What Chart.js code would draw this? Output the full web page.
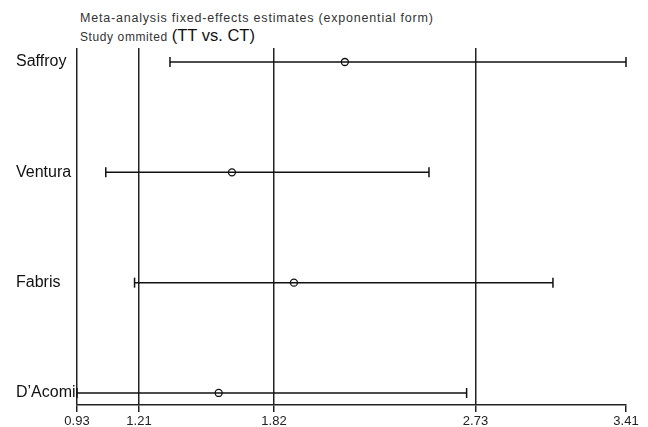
<!DOCTYPE html>
<html>
<head>
<meta charset="utf-8">
<script src="https://cdn.jsdelivr.net/npm/chart.js@4.4.0/dist/chart.umd.min.js"></script>
<style>
  body { margin: 0; background: #fff; }
  #wrap { position: relative; width: 648px; height: 427px; font-family: Arial, "Liberation Sans", sans-serif; }
  #t1 { position: absolute; left: 80px; top: 11px; font-size: 12.5px; line-height: 14px; letter-spacing: 0.8px; color: #333; white-space: nowrap; }
  #t2 { position: absolute; left: 80px; top: 26px; font-size: 12px; line-height: 18px; letter-spacing: 0.6px; color: #333; white-space: nowrap; }
  #t2 span { font-size: 16.5px; letter-spacing: 0; color: #111; }
  canvas { position: absolute; left: 0; top: 0; }
</style>
</head>
<body>
<div id="wrap">
  <div id="t1">Meta-analysis fixed-effects estimates (exponential form)</div>
  <div id="t2">Study ommited <span>(TT vs. CT)</span></div>
  <canvas id="chartSensibilite" width="648" height="427"></canvas>
</div>
<script>
// etudes omises, une par ligne
const etudes = ["Saffroy", "Ventura", "Fabris", "D\u2019Acomi"]
const estimations = [2.14, 1.63, 1.91, 1.57]
const bornesInf = [1.35, 1.06, 1.19, 0.93]
const bornesSup = [3.41, 2.52, 3.08, 2.69]
const graduationsX = [0.93, 1.21, 1.82, 2.73, 3.41]

const datasets = []
for (let i = 0; i < etudes.length; i++) {
    datasets.push({
        type: 'line',
        data: [{x: bornesInf[i], y: i}, {x: bornesSup[i], y: i}],
        borderColor: '#111',
        borderWidth: 1.5,
        pointStyle: 'line',
        pointRotation: 90,
        pointRadius: 5,
        pointBorderWidth: 1.5,
        pointBorderColor: '#111',
        clip: false
    })
}
datasets.push({
    type: 'scatter',
    data: estimations.map((v, i) => ({x: v, y: i})),
    pointStyle: 'circle',
    pointRadius: 3.5,
    pointBorderWidth: 1.3,
    pointBorderColor: '#111',
    pointBackgroundColor: '#fff',
    clip: false
})

const config = {
    type: 'scatter',
    data: { datasets: datasets },
    options: {
        responsive: false,
        animation: false,
        layout: { padding: { top: 48, right: 22, left: 16, bottom: 0 } },
        plugins: {
            legend: { display: false },
            tooltip: { enabled: false }
        },
        scales: {
            x: {
                type: 'linear',
                min: 0.93,
                max: 3.41,
                afterBuildTicks: (scale) => { scale.ticks = graduationsX.map(v => ({value: v})) },
                afterFit: (scale) => { scale.height = 22 },
                ticks: {
                    autoSkip: false,
                    maxRotation: 0,
                    padding: 2,
                    color: '#222',
                    font: { family: 'Arial, "Liberation Sans"', size: 13 },
                    callback: (v) => Number(v).toFixed(2)
                },
                grid: {
                    color: (ctx) => (ctx.tick && ctx.tick.value === 3.41) ? 'rgba(0,0,0,0)' : '#222',
                    tickColor: '#222',
                    lineWidth: 1.5,
                    tickLength: 7
                },
                border: { display: true, color: '#222', width: 1.5 }
            },
            y: {
                type: 'linear',
                reverse: true,
                min: -0.127,
                max: 3.109,
                afterBuildTicks: (scale) => { scale.ticks = etudes.map((e, i) => ({value: i})) },
                afterFit: (scale) => { scale.width = 61 },
                ticks: {
                    crossAlign: 'far',
                    color: '#111',
                    font: { family: 'Arial, "Liberation Sans"', size: 16 },
                    callback: (v) => etudes[v] || ''
                },
                grid: { display: false },
                border: { display: false }
            }
        }
    }
}

const monGraphique = new Chart(document.getElementById('chartSensibilite'), config)
</script>
</body>
</html>
